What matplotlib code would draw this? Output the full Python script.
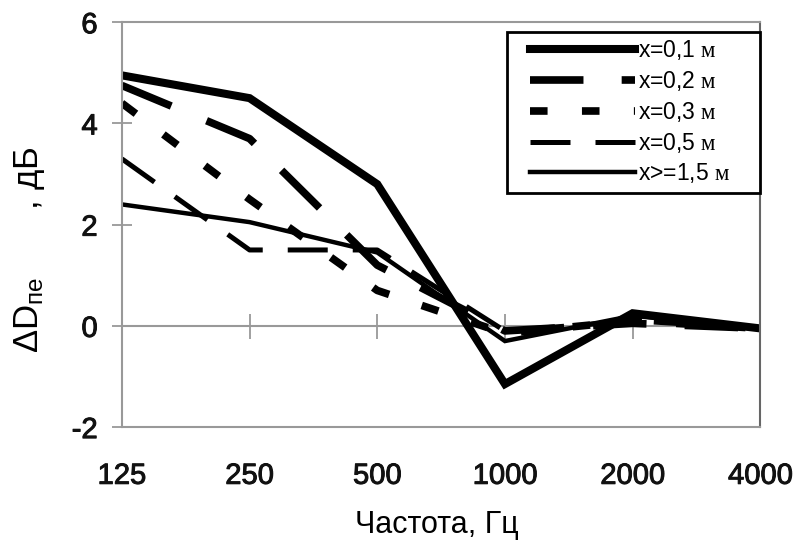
import numpy as np
import matplotlib.pyplot as plt
import matplotlib.patheffects as pe
from matplotlib.lines import Line2D
from matplotlib.patches import Rectangle

plt.rcParams['font.family'] = ['Liberation Sans', 'DejaVu Sans']
plt.rcParams['mathtext.fontset'] = 'custom'
plt.rcParams['mathtext.rm'] = 'Liberation Serif'
plt.rcParams['mathtext.sf'] = 'Liberation Sans'
plt.rcParams['axes.unicode_minus'] = False

# частоты и значения
freqs = ['125', '250', '500', '1000', '2000', '4000']
x01 = [4.95, 4.5, 2.8, -1.15, 0.25, -0.05]
x02 = [4.75, 3.7, 1.2, -0.1, 0.05, -0.05]
x03 = [4.4, 2.5, 0.7, -0.15, 0.1, -0.05]
x05 = [3.3, 1.5, 1.5, -0.1, 0.1, -0.05]
x15 = [2.4, 2.05, 1.45, -0.3, 0.2, -0.05]
labels = ['x=0,1 $\\mathrm{м}$', 'x=0,2 $\\mathrm{м}$', 'x=0,3 $\\mathrm{м}$',
          'x=0,5 $\\mathrm{м}$', 'x>=1,5 $\\mathrm{м}$']

W, H = 802, 542
fig = plt.figure(figsize=(W / 100, H / 100), dpi=100)
ax = fig.add_axes([0.152, 0.212, 0.796, 0.747])

pos = np.arange(len(freqs))
styles = [
    dict(lw=5.8, ls='-'),
    dict(lw=5.5, ls=(0, (7, 5))),
    dict(lw=5.5, ls=(0, (2.3, 4.5))),
    dict(lw=3.6, ls=(0, (8, 5))),
    dict(lw=3.2, ls='-'),
]
for vals, st in zip([x01, x02, x03, x05, x15], styles):
    ax.plot(pos, vals, color='black', solid_joinstyle='miter', **st)

# нулевая линия с засечками
ax.axhline(0, color='#999999', lw=1.5, zorder=0)
ax.plot(pos[1:-1], [0] * (len(pos) - 2), ls='none', marker='|', ms=18,
        mew=1.3, color='#999999', zorder=0)

ax.set_xlim(0, len(freqs) - 1)
ax.set_ylim(-2, 6)
ax.set_xticks(pos)
ax.set_xticklabels(freqs)
ax.set_yticks([-2, 0, 2, 4, 6])
ax.tick_params(axis='x', length=0, pad=25, labelsize=21, labelcolor='#111111')
ax.tick_params(axis='y', direction='inout', length=15, width=1.3,
               color='#999999', pad=10, labelsize=21, labelcolor='#111111')
for lab in ax.get_xticklabels() + ax.get_yticklabels():
    lab.set_path_effects([pe.withStroke(linewidth=0.7, foreground='#111111')])
for s in ax.spines.values():
    s.set_color('#999999')
    s.set_linewidth(1.5)
ax.spines['right'].set_color('#666666')

fig.text(0.545, 1 - 533 / H, 'Частота, Гц', fontsize=22, ha='center',
         va='baseline')
fig.text(30 / W, 1 - 250 / H,
         '$\\mathsf{\\Delta D_{пе}}$' + '       , дБ', fontsize=25,
         rotation=90, ha='center', va='center')

# легенда в рамке
handles = [Line2D([], [], color='black', **st) for st in styles]
leg = ax.legend(handles, labels, loc='upper left',
                bbox_to_anchor=(530 / W, 1 - 38 / H),
                bbox_transform=fig.transFigure, fontsize=16.5,
                handlelength=4.6, handletextpad=0.1, labelspacing=0.3,
                borderpad=0, borderaxespad=0, frameon=False)
leg.set_zorder(6)
ax.add_patch(Rectangle((507 / W, 1 - 193 / H), 253 / W, 161 / H,
                       transform=fig.transFigure, fill=True, fc='white',
                       ec='black', lw=2, zorder=5, clip_on=False))

fig.savefig('out.png', dpi=100)
